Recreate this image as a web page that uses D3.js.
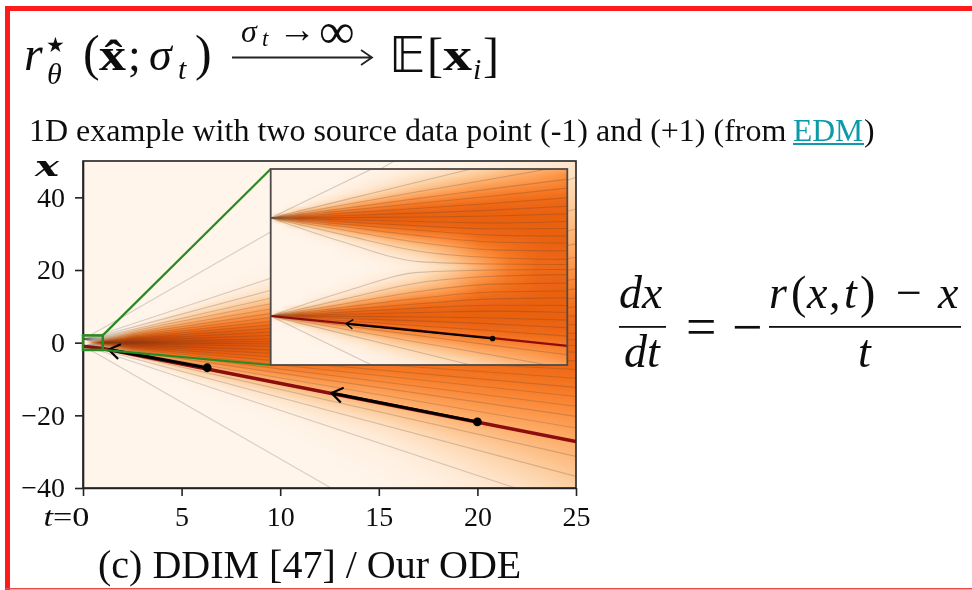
<!DOCTYPE html>
<html>
<head>
<meta charset="utf-8">
<script src="https://cdn.jsdelivr.net/npm/d3@7"></script>
<style>
  html, body { margin: 0; background: #fff; }
  svg { display: block; }
  text { font-family: "Liberation Serif", serif; fill: #111; }
</style>
</head>
<body>
<svg id="chart" width="972" height="590"></svg>
<script>
const width = 972, height = 590;

const xTicks = [0, 5, 10, 15, 20, 25];
const yTicks = [40, 20, 0, -20, -40];

// shading of the big plot, rows are |x|/t and columns are t, in percent of the colormap
const mainT = [0, 1, 2.5, 5, 10, 15, 25];
const mainSlope = [0, 0.25, 0.5, 0.75, 1, 1.25, 1.5, 1.75, 2, 2.5, 3, 4];
const mainShade = [
  [0, 0, 0, 0, 0, 0, 0, 0, 0, 0, 0, 0],
  [90, 78, 60, 40, 24, 12, 4, 1, 0, 0, 0, 0],
  [86, 80, 72, 58, 42, 28, 14, 5, 1, 0, 0, 0],
  [76, 73, 66, 54, 40, 28, 18, 8, 2, 0, 0, 0],
  [67, 66, 62, 52, 41, 27, 14, 7, 2, 0, 0, 0],
  [64, 62, 57, 49, 39, 27, 15, 8, 4, 1, 0, 0],
  [64, 63, 58, 50, 41, 34, 27, 20, 12, 4, 1, 0]
];

// shading of the inset, rows are |x| and columns are t
const insetT = [0, 0.03, 0.1, 0.2, 0.3, 0.4, 0.5, 0.6, 0.7, 0.8, 0.9, 1];
const insetX = [0, 0.125, 0.25, 0.375, 0.5, 0.625, 0.75, 0.875, 1, 1.125, 1.25, 1.375, 1.5, 1.625, 1.75, 1.875, 2];
const insetShade = [
  [0, 0, 0, 0, 0, 0, 0, 0, 0, 0, 0, 0, 0, 0, 0, 0, 0],
  [0, 0, 0, 0, 0, 0, 0, 0, 60, 0, 0, 0, 0, 0, 0, 0, 0],
  [0, 0, 0, 0, 0, 0, 3, 33, 74, 33, 3, 0, 0, 0, 0, 0, 0],
  [0, 0, 0, 0, 3, 10, 28, 55, 70, 55, 28, 10, 3, 1, 0, 0, 0],
  [0, 1, 3, 6, 14, 28, 46, 62, 68, 62, 46, 28, 14, 6, 3, 1, 0],
  [3, 5, 10, 18, 28, 41, 55, 65, 67, 65, 55, 41, 28, 18, 10, 5, 3],
  [9, 13, 20, 28, 38, 50, 60, 65, 66, 65, 60, 50, 38, 28, 20, 13, 7],
  [20, 27, 33, 38, 47, 55, 62, 65, 65, 65, 62, 55, 46, 36, 28, 20, 14],
  [38, 42, 47, 53, 58, 62, 64, 66, 66, 65, 64, 58, 52, 44, 36, 28, 22],
  [55, 56, 58, 60, 62, 64, 65, 66, 66, 65, 64, 61, 56, 49, 42, 36, 29],
  [62, 63, 64, 64, 65, 65, 66, 66, 66, 65, 64, 62, 58, 53, 47, 42, 35],
  [64, 64, 65, 65, 66, 66, 66, 66, 66, 65, 65, 63, 60, 56, 53, 49, 42]
];

// trajectories of the lower lobe, x at each of the nodes, the upper lobe is the mirror
const lineT = [0, 0.25, 0.5, 0.75, 1, 25];
const lines = [
  [-1, -1.735, -2.47, -3.2, -3.94, -78.7],
  [-1, -1.37, -1.74, -2.11, -2.48, -45.5],
  [-1, -1.27, -1.54, -1.8, -2.07, -36.8],
  [-1, -1.2, -1.4, -1.6, -1.79, -31.3],
  [-1, -1.1, -1.2, -1.3, -1.41, -23.5],
  [-1, -1.05, -1.1, -1.16, -1.24, -20.3],
  [-1, -1.01, -1.02, -1.04, -1.085, -17.5],
  [-1, -0.965, -0.93, -0.9, -0.93, -14.8],
  [-1, -0.92, -0.84, -0.78, -0.785, -12.3],
  [-1, -0.87, -0.75, -0.65, -0.63, -9.8],
  [-1, -0.82, -0.64, -0.51, -0.49, -7.4],
  [-1, -0.75, -0.5, -0.35, -0.33, -5],
  [-1, -0.65, -0.32, -0.19, -0.155, -2.6],
  [-1, -0.5, -0.11, -0.06, -0.05, -0.8]
];
const redLine = [-1, -1.15, -1.3, -1.45, -1.61, -27.2];

// [t, x] of the dots and arrow tips
const mainArrows = [[[20, -21.8], [12.6, -13.87]], [[6.3, -6.9], [1.3, -1.9]]];
const insetArrow = [[0.748, -1.46], [0.254, -1.156]];

const x = d3.scaleLinear().domain([0, 25]).range([83, 576]);
const y = d3.scaleLinear().domain([-40, 50]).range([488, 161]);
const ix = d3.scaleLinear().domain([0, 1]).range([270.7, 567.3]);
const iy = d3.scaleLinear().domain([-2, 2]).range([365, 169]);

const svg = d3.select("#chart");
const defs = svg.append("defs");

defs.append("filter").attr("id", "soft")
  .append("feGaussianBlur").attr("stdDeviation", 0.5);

function addHead(id, size) {
  defs.append("marker").attr("id", id)
    .attr("markerUnits", "userSpaceOnUse")
    .attr("viewBox", "-14 -10 17 20")
    .attr("markerWidth", 17 * size).attr("markerHeight", 20 * size)
    .attr("refX", 0).attr("refY", 0)
    .attr("orient", "auto")
    .append("path")
    .attr("d", "M-11,-7.5 L0,0 L-11,7.5")
    .attr("fill", "none").attr("stroke", "#000").attr("stroke-width", 2.2);
}
addHead("head", 1);
addHead("headSmall", 0.62);

// border of the slide
svg.append("rect").attr("x", 5).attr("y", 6).attr("width", 967).attr("height", 5).attr("fill", "#fe1b1b");
svg.append("rect").attr("x", 5).attr("y", 6).attr("width", 5).attr("height", 584).attr("fill", "#fe1b1b");
svg.append("rect").attr("x", 5).attr("y", 588).attr("width", 967).attr("height", 1.5).attr("fill", "#e84a4a");

// bilinear lookup in a shading table
function lookup(table, cols, rows, c, r) {
  const cs = d3.scaleLinear().domain(cols).range(d3.range(cols.length)).clamp(true);
  const rs = d3.scaleLinear().domain(rows).range(d3.range(rows.length)).clamp(true);
  const ci = cs(c), ri = rs(r);
  const c0 = Math.floor(ci), r0 = Math.floor(ri);
  const c1 = Math.min(c0 + 1, cols.length - 1), r1 = Math.min(r0 + 1, rows.length - 1);
  const fc = ci - c0, fr = ri - r0;
  const top = table[c0][r0] * (1 - fr) + table[c0][r1] * fr;
  const bot = table[c1][r0] * (1 - fr) + table[c1][r1] * fr;
  return (top * (1 - fc) + bot * fc) / 100;
}

function heatImage(group, xs, ys, shade) {
  const x0 = Math.round(xs.range()[0]), x1 = Math.round(xs.range()[1]);
  const y0 = Math.round(ys.range()[1]), y1 = Math.round(ys.range()[0]);
  const canvas = document.createElement("canvas");
  canvas.width = x1 - x0;
  canvas.height = y1 - y0;
  const ctx = canvas.getContext("2d");
  for (let i = 0; i < canvas.width; i++) {
    for (let j = 0; j < canvas.height; j++) {
      ctx.fillStyle = d3.interpolateOranges(shade(xs.invert(x0 + i + 0.5), ys.invert(y0 + j + 0.5)));
      ctx.fillRect(i, j, 1, 1);
    }
  }
  group.append("image")
    .attr("x", x0).attr("y", y0)
    .attr("width", canvas.width).attr("height", canvas.height)
    .attr("href", canvas.toDataURL());
}

const line = (xs, ys) => d3.line()
  .x(d => xs(d[0]))
  .y(d => ys(d[1]));

function nodes(row, sign) {
  return row.map((v, i) => [lineT[i], v * sign]);
}

const plot = svg.append("g").attr("filter", "url(#soft)");

// big plot
heatImage(plot, x, y, (t, v) => lookup(mainShade, mainT, mainSlope, t, Math.abs(v) / Math.max(t, 1e-3)));

defs.append("clipPath").attr("id", "mainClip").append("rect")
  .attr("x", x(0)).attr("y", y(50)).attr("width", x(25) - x(0)).attr("height", y(-40) - y(50));
defs.append("clipPath").attr("id", "insetClip").append("rect")
  .attr("x", ix(0)).attr("y", iy(2)).attr("width", ix(1) - ix(0)).attr("height", iy(-2) - iy(2));

const mirrored = [nodes(redLine, -1)];
lines.forEach(r => {
  mirrored.push(nodes(r, 1));
  mirrored.push(nodes(r, -1));
});

const mainG = plot.append("g").attr("clip-path", "url(#mainClip)");
mainG.selectAll("path.traj").data(mirrored).join("path")
  .attr("class", "traj")
  .attr("d", line(x, y))
  .attr("fill", "none").attr("stroke", "#4a4038").attr("stroke-opacity", 0.22).attr("stroke-width", 1.1);

mainG.append("path").datum(nodes(redLine, 1))
  .attr("d", line(x, y))
  .attr("fill", "none").attr("stroke", "#8c0d0d").attr("stroke-width", 3.4);

mainG.selectAll("path.arrow").data(mainArrows).join("path")
  .attr("class", "arrow")
  .attr("d", line(x, y))
  .attr("fill", "none").attr("stroke", "#000").attr("stroke-width", 3)
  .attr("marker-end", "url(#head)");
mainG.selectAll("circle").data(mainArrows).join("circle")
  .attr("cx", d => x(d[0][0])).attr("cy", d => y(d[0][1]))
  .attr("r", 4.4).attr("fill", "#000");

// frame and axes
plot.append("rect")
  .attr("x", x(0)).attr("y", y(50)).attr("width", x(25) - x(0)).attr("height", y(-40) - y(50))
  .attr("fill", "none").attr("stroke", "#222").attr("stroke-width", 1.6);

const xAxis = plot.append("g")
  .attr("transform", `translate(0,${y(-40)})`)
  .call(d3.axisBottom(x).tickValues(xTicks).tickSize(8).tickSizeOuter(0).tickPadding(10));
const yAxis = plot.append("g")
  .attr("transform", `translate(${x(0)},0)`)
  .call(d3.axisLeft(y).tickValues(yTicks).tickSize(8).tickSizeOuter(0).tickPadding(10));
[xAxis, yAxis].forEach(a => {
  a.select(".domain").attr("stroke", "#222").attr("stroke-width", 1.6);
  a.selectAll(".tick line").attr("stroke", "#222").attr("stroke-width", 1.6);
  a.selectAll("text").attr("font-size", 28).attr("font-family", "Liberation Serif").attr("fill", "#222");
});
const zeroLabel = xAxis.selectAll(".tick text").filter(d => d === 0).text(null);
zeroLabel.append("tspan").attr("font-style", "italic").text("t");
zeroLabel.append("tspan").text("=0");
zeroLabel.attr("text-anchor", "end").attr("dx", 6).attr("textLength", 46).attr("lengthAdjust", "spacingAndGlyphs");

// zoom box and its connectors
const green = "#2c8a20";
plot.append("rect")
  .attr("x", x(0)).attr("y", y(2)).attr("width", x(1) - x(0)).attr("height", y(-2) - y(2))
  .attr("fill", "none").attr("stroke", green).attr("stroke-width", 2.6);
plot.append("path")
  .attr("d", d3.line()([[x(1), y(2)], [ix(0), iy(2)]]))
  .attr("stroke", green).attr("stroke-width", 2.2).attr("fill", "none");
plot.append("path")
  .attr("d", d3.line()([[x(1), y(-2)], [ix(0), iy(-2)]]))
  .attr("stroke", green).attr("stroke-width", 2.2).attr("fill", "none");

// inset
heatImage(plot, ix, iy, (t, v) => lookup(insetShade, insetT, insetX, t, Math.abs(v)));
const insetG = plot.append("g").attr("clip-path", "url(#insetClip)");
const curved = line(ix, iy).curve(d3.curveMonotoneX);
insetG.selectAll("path.traj").data(mirrored.map(d => d.slice(0, 5))).join("path")
  .attr("class", "traj")
  .attr("d", curved)
  .attr("fill", "none").attr("stroke", "#4a4038").attr("stroke-opacity", 0.24).attr("stroke-width", 1.1);
insetG.append("path").datum(nodes(redLine, 1).slice(0, 5))
  .attr("d", curved)
  .attr("fill", "none").attr("stroke", "#8c0d0d").attr("stroke-width", 2.2);
insetG.append("path").datum(insetArrow)
  .attr("d", line(ix, iy))
  .attr("fill", "none").attr("stroke", "#000").attr("stroke-width", 2)
  .attr("marker-end", "url(#headSmall)");
insetG.append("circle")
  .attr("cx", ix(insetArrow[0][0])).attr("cy", iy(insetArrow[0][1]))
  .attr("r", 2.8).attr("fill", "#000");
plot.append("rect")
  .attr("x", ix(0)).attr("y", iy(2)).attr("width", ix(1) - ix(0)).attr("height", iy(-2) - iy(2))
  .attr("fill", "none").attr("stroke", "#4f4a46").attr("stroke-width", 1.8);

// texts
const txt = svg.append("g").attr("filter", "url(#soft)");
function put(str, px, py, size, style) {
  const t = txt.append("text").attr("x", px).attr("y", py).attr("font-size", size).text(str);
  if (style) Object.keys(style).forEach(k => t.attr(k, style[k]));
  return t;
}
const it = { "font-style": "italic" };
const wideBold = w => ({ "font-weight": "bold", textLength: w, lengthAdjust: "spacingAndGlyphs" });

put("x", 35, 176, 27, { "font-style": "italic", "font-weight": "bold", style: "font-family:'DejaVu Serif';fill:#111", textLength: 24, lengthAdjust: "spacingAndGlyphs" });

put("1D example with two source data point (-1) and (+1) (from ", 29, 141, 32);
put("EDM", 793, 141, 31.6, { style: "fill:#0f9aa8" });
put(")", 864, 141, 31.6);
svg.append("rect").attr("x", 793).attr("y", 143).attr("width", 71).attr("height", 2).attr("fill", "#0f9aa8");

put("(c) DDIM [47] / Our ODE", 98, 578, 40);

// top formula
put("r", 24, 70, 48, it);
put("★", 46, 52, 21, { style: "font-family:'DejaVu Sans';fill:#111" });
put("θ", 47, 84, 30, it);
put("(", 83, 70, 50);
put("x\u0302", 99, 70, 46, wideBold(27));
put(";", 128, 70, 46);
put("σ", 149, 70, 46, it);
put("t", 178, 79, 30, it);
put(")", 195, 70, 50);
put("σ", 241, 42, 32, it);
put("t", 262, 46, 23, it);
put("→", 278, 42, 38);
put("∞", 319, 48, 50);
svg.append("path").attr("d", "M232,57.5 H371 M361,50 L372,57.5 L361,65").attr("fill", "none").attr("stroke", "#222").attr("stroke-width", 1.8);
put("𝔼", 389, 72, 50, { style: "font-family:'DejaVu Sans';fill:#111" });
put("[", 427, 71, 48);
put("x", 443, 70, 46, wideBold(29));
put("i", 473, 79, 30, it);
put("]", 483, 71, 48);

// ode on the right
const eq = 46;
put("dx", 619, 308, eq, it);
put("dt", 624, 367, eq, it);
put("=", 686, 345, 54);
put("−", 732, 345, 54);
put("r", 769, 308, eq, it);
put("(", 791, 308, eq);
put("x", 807, 308, eq, it);
put(",", 829, 308, eq);
put("t", 844, 308, eq, it);
put(")", 860, 308, eq);
put("−", 896, 308, eq);
put("x", 938, 308, eq, it);
put("t", 858, 367, eq, it);
svg.append("rect").attr("x", 619).attr("y", 326).attr("width", 47).attr("height", 1.8).attr("fill", "#111");
svg.append("rect").attr("x", 769).attr("y", 326).attr("width", 192).attr("height", 1.8).attr("fill", "#111");
</script>
</body>
</html>
